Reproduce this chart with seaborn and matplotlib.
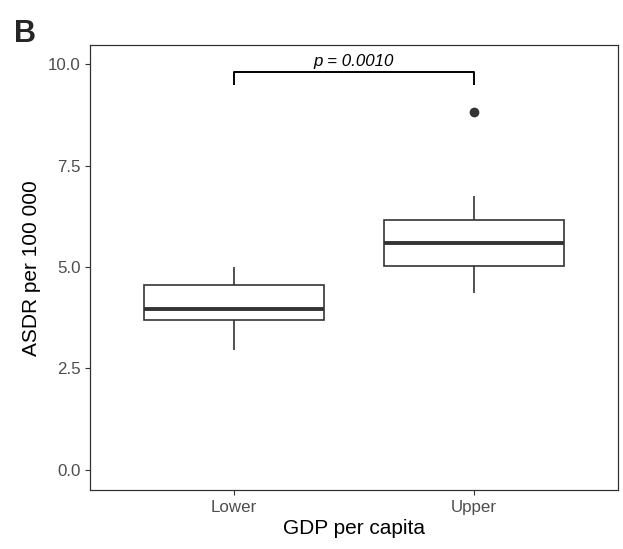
import matplotlib
matplotlib.use("Agg")
import matplotlib.pyplot as plt
import numpy as np
import pandas as pd
import seaborn as sns

# ASDR per 100 000 by GDP-per-capita group
groups = ["Lower", "Upper"]
lower_vals = [2.96, 3.55, 3.69, 3.82, 3.96, 4.25, 4.56, 4.80, 4.99]
upper_vals = [4.35, 4.85, 5.03, 5.30, 5.58, 5.90, 6.17, 6.76, 8.82]
y_ticks = [0.0, 2.5, 5.0, 7.5, 10.0]
p_label = "p = 0.0010"
bracket_y = 9.80
bracket_drop = 0.31

df = pd.DataFrame({
    "GDP per capita": [groups[0]] * len(lower_vals) + [groups[1]] * len(upper_vals),
    "ASDR": lower_vals + upper_vals,
})

sns.set_theme(style="white")
plt.rcParams["font.family"] = ["Liberation Sans", "DejaVu Sans"]

fig = plt.figure(figsize=(6.23, 5.49), dpi=100)
ax = fig.add_axes([0.1437, 0.1066, 0.8483, 0.8115])

line_col = "#333333"
sns.boxplot(
    data=df, x="GDP per capita", y="ASDR", order=groups, ax=ax,
    color="white", linecolor=line_col, linewidth=1.2, width=0.75,
    showcaps=False, whis=1.5,
    medianprops=dict(linewidth=2.8, color=line_col),
    flierprops=dict(marker="o", markerfacecolor=line_col, markeredgecolor=line_col,
                    markersize=6),
)

ax.set_xlim(-0.6, 1.6)
ax.set_ylim(-0.505, 10.47)
ax.set_yticks(y_ticks)
ax.set_yticklabels([f"{v:.1f}" for v in y_ticks])

ax.set_xlabel("GDP per capita", fontsize=15, color="black", labelpad=3)
ax.set_ylabel("ASDR per 100 000", fontsize=15, color="black", labelpad=5)
ax.tick_params(axis="both", which="both", length=3.5, width=0.8, color="#333333",
               labelsize=12.2, labelcolor="#4D4D4D", pad=3,
               bottom=True, left=True)

for s in ax.spines.values():
    s.set_color("#333333")
    s.set_linewidth(0.9)
    s.set_visible(True)

# significance bracket
ax.plot([0, 0, 1, 1], [bracket_y - bracket_drop, bracket_y, bracket_y, bracket_y - bracket_drop],
        color="black", linewidth=1.4, solid_capstyle="butt")
ax.text(0.5, bracket_y + 0.14, p_label, ha="center", va="baseline",
        fontsize=12.2, style="italic", color="black")

fig.text(0.022, 0.965, "B", fontsize=22, fontweight="bold", ha="left", va="top")

fig.savefig("out.png", dpi=100)
